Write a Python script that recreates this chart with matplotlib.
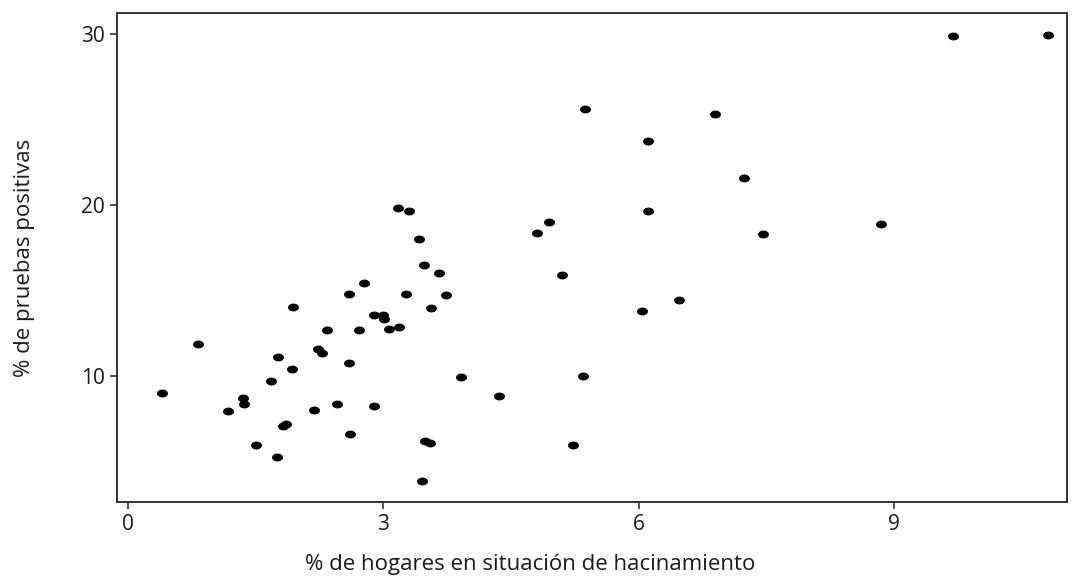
import numpy as np
import matplotlib.pyplot as plt
from matplotlib.path import Path

# % de hogares en hacinamiento vs % de pruebas positivas
hacinamiento = [0.40, 0.82, 1.18, 1.35, 1.36, 1.50, 1.68, 1.76, 1.75, 1.82,
                1.86, 1.93, 1.94, 2.18, 2.23, 2.28, 2.34, 2.46, 2.59, 2.60,
                2.61, 2.71, 2.77, 2.89, 2.89, 2.99, 3.01, 3.07, 3.18, 3.17,
                3.30, 3.26, 3.42, 3.48, 3.56, 3.65, 3.74, 3.45, 3.49, 3.55,
                3.91, 4.36, 4.80, 4.95, 5.10, 5.23, 5.35, 5.37, 6.04, 6.11,
                6.11, 6.47, 6.89, 7.24, 7.46, 8.85, 9.69, 10.81]
positivas = [8.99, 11.85, 7.95, 8.70, 8.38, 5.98, 9.71, 11.09, 5.25, 7.09,
             7.18, 10.41, 14.04, 8.03, 11.58, 11.35, 12.67, 8.38, 10.74, 14.78,
             6.59, 12.69, 15.42, 8.26, 13.58, 13.58, 13.35, 12.75, 12.88, 19.84,
             19.63, 14.81, 18.01, 16.47, 13.96, 16.02, 14.74, 3.86, 6.22, 6.10,
             9.92, 8.85, 18.38, 19.01, 15.91, 5.99, 10.00, 25.61, 13.80, 23.73,
             19.65, 14.46, 25.30, 21.56, 18.29, 18.87, 29.88, 29.92]

xticks = [0, 3, 6, 9]
yticks = [10, 20, 30]

plt.rcParams['font.family'] = ['Open Sans', 'DejaVu Sans']

# slightly flattened dot
t = np.linspace(0, 2 * np.pi, 40)
ellipse = Path(np.column_stack([np.cos(t), 0.72 * np.sin(t)]), closed=True)

fig = plt.figure(figsize=(10.8, 5.77), dpi=100)
ax = fig.add_axes([0.1083, 0.130, 0.8797, 0.847])

ax.scatter(hacinamiento, positivas, marker=ellipse, s=62, color='black',
           linewidths=0)

ax.set_xlim(-0.13, 11.03)
ax.set_ylim(2.63, 31.21)
ax.set_xticks(xticks)
ax.set_yticks(yticks)

for side in ax.spines.values():
    side.set_color('#333333')
    side.set_linewidth(1.4)
ax.tick_params(colors='#333333', width=1.2, length=5, labelsize=15,
               labelcolor='#1a1a1a', pad=4)

ax.set_xlabel('% de hogares en situación de hacinamiento', fontsize=16,
              color='#1a1a1a', va='center')
ax.xaxis.set_label_coords(0.435, -0.128)
ax.set_ylabel('% de pruebas positivas', fontsize=16, color='#1a1a1a',
              labelpad=33)

fig.savefig('out.png', dpi=100)
